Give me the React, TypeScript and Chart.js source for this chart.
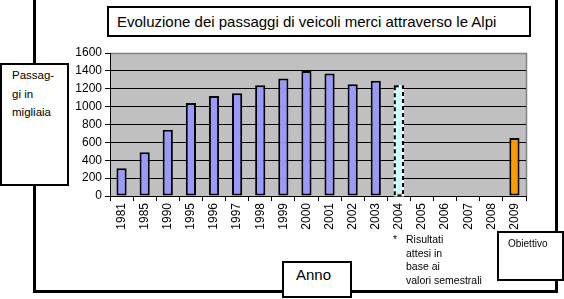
import React, { useEffect, useRef } from "react";
import { Chart, registerables } from "chart.js";

Chart.register(...registerables);

const years = ["1981", "1985", "1990", "1995", "1996", "1997", "1998", "1999", "2000", "2001", "2002", "2003", "2004", "2005", "2006", "2007", "2008", "2009"];
const passages = [310, 490, 740, 1040, 1120, 1150, 1240, 1315, 1400, 1370, 1250, 1290, 1240, null, null, null, null, 650];
const barKinds = ["h", "h", "h", "h", "h", "h", "h", "h", "h", "h", "h", "h", "estimate", "h", "h", "h", "h", "target"];
const yTicks = [0, 200, 400, 600, 800, 1000, 1200, 1400, 1600];

const titleText = "Evoluzione dei passaggi di veicoli merci attraverso le Alpi";
const yTitleLines = ["Passag-", "gi in", "migliaia"];
const xTitleText = "Anno";
const noteLines = ["Risultati", "attesi in", "base ai", "valori semestrali"];
const targetText = "Obiettivo";

const FONT = "'Liberation Sans', Arial, sans-serif";

const colorFor = (k: string) => (k === "estimate" ? "#ccffff" : k === "target" ? "#ff9900" : "#9999ff");

export default function App() {
  const ref = useRef<HTMLCanvasElement | null>(null);
  useEffect(() => {
    if (!ref.current) return;
    const plotBg = {
      id: "plotBg",
      beforeDatasetsDraw(chart: any) {
        // nothing: background drawn in beforeDraw
      },
      beforeDraw(chart: any) {
        const { ctx, chartArea: a } = chart;
        ctx.save();
        ctx.fillStyle = "#c0c0c0";
        ctx.fillRect(a.left, a.top, a.right - a.left, a.bottom - a.top);
        ctx.strokeStyle = "#808080";
        ctx.lineWidth = 1.5;
        ctx.beginPath();
        ctx.moveTo(a.left, a.top + 0.5);
        ctx.lineTo(a.right + 0.5, a.top + 0.5);
        ctx.lineTo(a.right + 0.5, a.bottom);
        ctx.stroke();
        ctx.restore();
      },
    };
    const dashed = {
      id: "dashedBar",
      afterDatasetsDraw(chart: any) {
        const meta = chart.getDatasetMeta(0);
        const { ctx } = chart;
        barKinds.forEach((k, i) => {
          if (k !== "estimate") return;
          const el: any = meta.data[i];
          if (!el) return;
          const l = el.x - el.width / 2 + 1;
          const r = el.x + el.width / 2 - 1;
          ctx.save();
          ctx.lineWidth = 2;
          ctx.strokeStyle = "#ffffff";
          ctx.strokeRect(l, el.y + 1, r - l, el.base - el.y - 1);
          ctx.strokeStyle = "#000000";
          ctx.setLineDash([4, 3]);
          ctx.strokeRect(l, el.y + 1, r - l, el.base - el.y - 1);
          ctx.setLineDash([]);
          ctx.restore();
        });
      },
    };
    const chart = new Chart(ref.current, {
      type: "bar",
      data: {
        labels: years,
        datasets: [
          {
            data: passages as any,
            backgroundColor: barKinds.map(colorFor),
            borderColor: barKinds.map((k) => (k === "estimate" ? "rgba(0,0,0,0)" : "#000000")),
            borderWidth: 2,
            borderSkipped: false,
            categoryPercentage: 1,
            barPercentage: 0.44,
          },
        ],
      },
      options: {
        animation: false,
        responsive: false,
        layout: { padding: { left: 70, top: 53, right: 38, bottom: 63 } },
        plugins: { legend: { display: false }, tooltip: { enabled: false } },
        scales: {
          x: {
            afterFit: (s: any) => {
              s.height = 40;
            },
            grid: { drawOnChartArea: false, tickLength: 5, tickColor: "#000" },
            border: { color: "#000" },
            ticks: { maxRotation: 90, minRotation: 90, autoSkip: false, padding: 2, color: "#000", font: { family: FONT, size: 12 } },
          },
          y: {
            min: 0,
            max: 1600,
            afterFit: (s: any) => {
              s.width = 40;
            },
            afterBuildTicks: (s: any) => {
              s.ticks = yTicks.map((v) => ({ value: v }));
            },
            grid: {
              color: (c: any) => (c.tick && c.tick.value === 1600 ? "rgba(0,0,0,0)" : "#000"),
              tickColor: "#000",
              tickLength: 5,
            },
            border: { color: "#000" },
            ticks: { padding: 3, color: "#000", font: { family: FONT, size: 12 }, callback: (v: any) => String(v) },
          },
        },
      },
      plugins: [plotBg, dashed],
    } as any);
    return () => chart.destroy();
  }, []);

  const box: React.CSSProperties = { position: "absolute", background: "#fff", border: "2px solid #000", boxSizing: "border-box" };

  return (
    <div style={{ position: "fixed", left: 0, top: 0, width: 564, height: 299, background: "#fff", fontFamily: FONT, color: "#000", overflow: "hidden" }}>
      <div style={{ position: "absolute", left: 33, top: -4, width: 525, height: 297, border: "3px solid #000", boxSizing: "border-box" }} />
      <canvas ref={ref} width={564} height={299} style={{ position: "absolute", left: 0, top: 0, width: 564, height: 299 }} />
      <div style={{ ...box, left: 107, top: 6, width: 424, height: 31, fontSize: 15, lineHeight: "27px", paddingLeft: 8, whiteSpace: "nowrap" }}>{titleText}</div>
      <div style={{ ...box, left: 0, top: 63, width: 69, height: 123, fontSize: 11.5, lineHeight: "18.5px", paddingLeft: 10, paddingTop: 1 }}>
        {yTitleLines.map((t) => (
          <div key={t}>{t}</div>
        ))}
      </div>
      <div style={{ ...box, left: 282, top: 261, width: 70, height: 37, fontSize: 15, lineHeight: "20px", paddingLeft: 12, paddingTop: 2 }}>{xTitleText}</div>
      <div style={{ position: "absolute", left: 393, top: 233, fontSize: 10.5, lineHeight: "13.5px" }}>
        <span style={{ position: "absolute", left: 0, top: 0 }}>*</span>
        <div style={{ position: "absolute", left: 13, top: 0, whiteSpace: "nowrap" }}>
          {noteLines.map((t) => (
            <div key={t}>{t}</div>
          ))}
        </div>
      </div>
      <div style={{ ...box, left: 497, top: 231, width: 67, height: 50, fontSize: 10, paddingLeft: 9, paddingTop: 5 }}>{targetText}</div>
    </div>
  );
}
